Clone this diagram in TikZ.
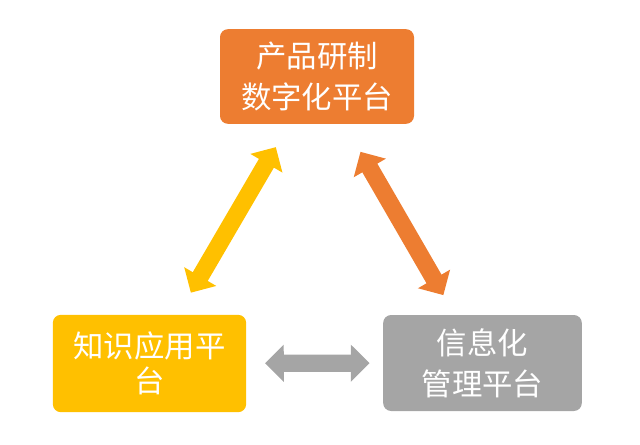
\documentclass[tikz,border=0pt]{standalone}
\usepackage{fontspec}
\newfontfamily\cjk{Noto Sans CJK SC}
\usetikzlibrary{arrows.meta}
\definecolor{prodO}{RGB}{237,125,49}
\definecolor{knowY}{RGB}{255,192,0}
\definecolor{infoG}{RGB}{165,165,165}
\tikzset{
  plat/.style={rounded corners=6pt, text=white, align=center, inner sep=0pt,
    font=\cjk\fontsize{22.8pt}{31pt}\selectfont},
  link/.style={{Triangle[width=27pt,length=14pt]}-{Triangle[width=27pt,length=14pt]}, line width=13pt},
}

\begin{document}
\begin{tikzpicture}[x=0.75pt, y=-0.75pt]
  \useasboundingbox (0,0) rectangle (640,444);
  % three platforms
  \node[plat, fill=prodO, minimum width=145.5pt, minimum height=71pt] (prod) at (317,76.5)
    {产品研制\\数字化平台};
  \node[plat, fill=knowY, minimum width=145pt, minimum height=73pt] (know) at (149.5,363.5)
    {知识应用平\\[-5pt]台};
  \node[plat, fill=infoG, minimum width=149pt, minimum height=72pt] (info) at (482.5,363)
    {信息化\\管理平台};
  % links between them
  \draw[link, knowY, shorten <=19pt, shorten >=20pt] (know) -- (prod);
  \draw[link, prodO, shorten <=24pt, shorten >=17pt] (prod) -- (info);
  \draw[link, infoG, shorten <=14pt, shorten >=10pt] (know) -- (info);
\end{tikzpicture}
\end{document}
